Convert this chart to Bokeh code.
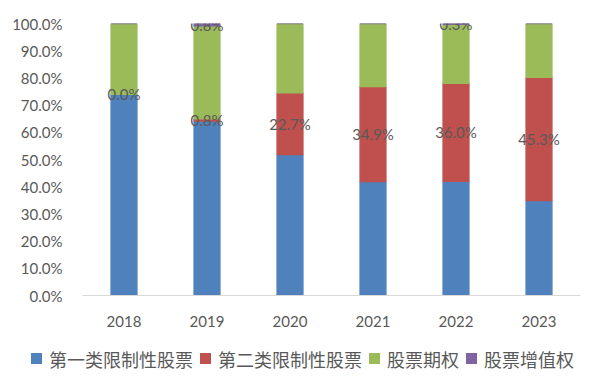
from bokeh.plotting import figure
from bokeh.layouts import column
from bokeh.models import ColumnDataSource, FactorRange, Range1d, NumeralTickFormatter, FixedTicker, Div
from bokeh.core.properties import value
from bokeh.embed import file_html
from bokeh.resources import INLINE

years = ["2018", "2019", "2020", "2021", "2022", "2023"]
series_names = ["第一类限制性股票", "第二类限制性股票", "股票期权", "股票增值权"]
type1 = [74.0, 64.2, 51.8, 41.9, 42.0, 34.9]
type2 = [0.0, 0.8, 22.7, 34.9, 36.0, 45.3]
options = [26.0, 34.2, 25.5, 23.2, 21.7, 19.8]
sar = [0.0, 0.8, 0.0, 0.0, 0.3, 0.0]
y_ticks = [0.0, 0.1, 0.2, 0.3, 0.4, 0.5, 0.6, 0.7, 0.8, 0.9, 1.0]

colors = ["#4F81BD", "#C0504D", "#9BBB59", "#8064A2"]
keys = ["t1", "t2", "op", "sar"]
grey = "#595959"
num_font = "Lato"
cjk_font = "Noto Sans CJK SC"

src = ColumnDataSource(dict(
    year=years,
    t1=[v / 100 for v in type1],
    t2=[v / 100 for v in type2],
    op=[v / 100 for v in options],
    sar=[v / 100 for v in sar],
))

p = figure(x_range=FactorRange(*years, range_padding=0), y_range=Range1d(0, 1),
           width=602, height=330,
           min_border_left=82, min_border_right=22, min_border_top=23, min_border_bottom=35,
           output_backend="svg", toolbar_location=None)
p.outline_line_color = None
p.background_fill_color = "white"
p.border_fill_color = "white"
p.xgrid.visible = False
p.ygrid.visible = False

renderers = p.vbar_stack(keys, x="year", width=0.31, source=src,
                         color=colors, line_width=1.5)

# axes
p.yaxis.ticker = FixedTicker(ticks=y_ticks)
p.yaxis.formatter = NumeralTickFormatter(format="0.0%")
p.yaxis.axis_line_color = None
p.yaxis.major_tick_line_color = None
p.yaxis.minor_tick_line_color = None
p.yaxis.major_label_standoff = 14
p.yaxis.major_label_text_font = num_font
p.yaxis.major_label_text_font_size = "15px"
p.yaxis.major_label_text_color = grey

p.xaxis.axis_line_color = "#D9D9D9"
p.xaxis.axis_line_width = 1
p.xaxis.major_tick_line_color = None
p.xaxis.minor_tick_line_color = None
p.xaxis.major_label_standoff = 14
p.xaxis.major_label_text_font = num_font
p.xaxis.major_label_text_font_size = "15px"
p.xaxis.major_label_text_color = grey

# data labels: second type restricted stock (all years) and SAR (non-zero)
lab_x, lab_y, lab_t = [], [], []
for i, y in enumerate(years):
    b = type1[i] / 100
    r = type2[i] / 100
    lab_x.append(y)
    lab_y.append(b + r / 2)
    lab_t.append(f"{type2[i]:.1f}%")
    if sar[i] > 0:
        top = (type1[i] + type2[i] + options[i]) / 100
        lab_x.append(y)
        lab_y.append(top + sar[i] / 200)
        lab_t.append(f"{sar[i]:.1f}%")

p.text(x=lab_x, y=lab_y, text=lab_t, text_align="center", text_baseline="middle",
       text_font=value(num_font), text_font_size="15px", text_color=grey)

# legend as an HTML strip under the chart
parts = []
for n, c in zip(series_names, colors):
    parts.append(
        f'<span style="display:inline-block;width:11px;height:11px;background:{c};'
        f'margin-right:7px;"></span>'
        f'<span style="margin-right:7px;">{n}</span>'
    )
legend_html = (
    f'<div style="display:flex;align-items:center;height:47px;padding-left:26px;'
    f"font-family:'{cjk_font}';font-size:18px;line-height:18px;color:{grey};"
    f'white-space:nowrap;">' + "".join(parts) + "</div>"
)
legend_div = Div(text=legend_html, width=602, height=60)

layout = column(p, legend_div, spacing=0)
open("out.html", "w").write(file_html(layout, INLINE))
